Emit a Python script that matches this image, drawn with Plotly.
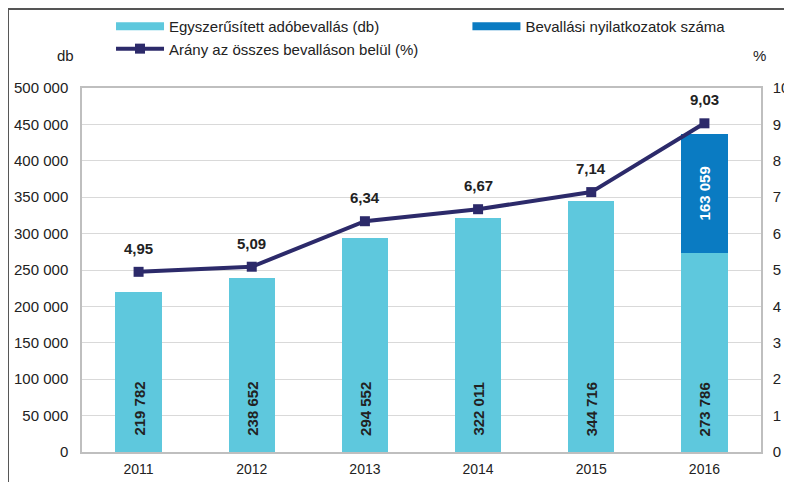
import plotly.graph_objects as go

years = [2011, 2012, 2013, 2014, 2015, 2016]
simplified = [219782, 238652, 294552, 322011, 344716, 273786]
declarations = [0, 0, 0, 0, 0, 163059]
ratio = [4.95, 5.09, 6.34, 6.67, 7.14, 9.03]
left_ticks = [0, 50000, 100000, 150000, 200000, 250000, 300000, 350000, 400000, 450000, 500000]
right_ticks = [0, 1, 2, 3, 4, 5, 6, 7, 8, 9, 10]

FONT = "Liberation Sans, Arial, sans-serif"
LIGHT = "#5ec8dd"
DARK = "#0a7bc2"
NAVY = "#2c2a6a"
TXT = "#222222"
NAME_A = "Egyszerűsített adóbevallás (db)"
NAME_B = "Bevallási nyilatkozatok száma"
NAME_C = "Arány az összes bevalláson belül (%)"

def fmt(v):
    return f"{v:,}".replace(",", " ")

fig = go.Figure()
fig.add_trace(go.Bar(
    x=years, y=simplified, name=NAME_A, showlegend=False,
    marker=dict(color=LIGHT, line=dict(width=0)), width=0.41,
))
fig.add_trace(go.Bar(
    x=years, y=declarations, name=NAME_B, showlegend=False,
    marker=dict(color=DARK, line=dict(width=0)), width=0.41,
    text=[fmt(v) if v else "" for v in declarations],
    textposition="inside", insidetextanchor="middle", textangle=-90,
    textfont=dict(family=FONT, size=15, color="white", weight="bold"),
))
fig.add_trace(go.Scatter(
    x=years, y=ratio, name=NAME_C,
    yaxis="y2", mode="lines+markers", legend="legend", legendrank=2,
    line=dict(color=NAVY, width=4),
    marker=dict(symbol="square", size=10, color=NAVY),
))
# legend swatches for the bar series (wide rectangles as in the original)
fig.add_trace(go.Scatter(x=[None], y=[None], name=NAME_A, mode="lines",
                         line=dict(color=LIGHT, width=8), legend="legend",
                         legendrank=1))
fig.add_trace(go.Scatter(x=[None], y=[None], name=NAME_B, mode="lines",
                         line=dict(color=DARK, width=8), legend="legend2"))

annotations = []
for yr, v in zip(years, simplified):
    annotations.append(dict(
        x=yr, y=0, xref="x", yref="y", text=f"<b>{fmt(v)}</b>", showarrow=False,
        textangle=-90, yanchor="bottom", yshift=14,
        font=dict(family=FONT, size=15, color=TXT),
    ))
for yr, v in zip(years, ratio):
    annotations.append(dict(
        x=yr, y=v, xref="x", yref="y2", text=f"<b>{v:.2f}</b>".replace(".", ","),
        showarrow=False, yanchor="bottom", yshift=13,
        font=dict(family=FONT, size=15, color=TXT),
    ))
annotations.append(dict(x=(76 - 82) / 679, y=(452 - 55) / 364, xref="paper", yref="paper",
                        text="db", showarrow=False, xanchor="right", yanchor="middle",
                        font=dict(family=FONT, size=15, color=TXT)))
annotations.append(dict(x=(751 - 82) / 679, y=(452 - 55) / 364, xref="paper", yref="paper",
                        text="%", showarrow=False, xanchor="left", yanchor="middle",
                        font=dict(family=FONT, size=15, color=TXT)))

shapes = [
    dict(type="line", xref="paper", yref="paper", x0=-0.109, x1=-0.109, y0=-0.2, y1=1.217,
         line=dict(color="#555555", width=2)),
    dict(type="line", xref="paper", yref="paper", x0=-0.109, x1=1.2, y0=1.217, y1=1.217,
         line=dict(color="#555555", width=2)),
]

legfont = dict(family=FONT, size=15, color=TXT)
fig.update_layout(
    width=784, height=474,
    margin=dict(l=74, r=31, t=80, b=30, autoexpand=False),
    paper_bgcolor="white", plot_bgcolor="white",
    barmode="stack",
    font=dict(family=FONT, size=15, color=TXT),
    showlegend=True,
    legend=dict(orientation="v", xref="container", yref="container",
                x=0.1314, y=0.996, xanchor="left", yanchor="top",
                itemwidth=48, traceorder="normal", font=legfont,
                bgcolor="rgba(0,0,0,0)", tracegroupgap=0),
    legend2=dict(orientation="v", xref="container", yref="container",
                 x=0.586, y=0.996, xanchor="left", yanchor="top",
                 itemwidth=48, font=legfont, bgcolor="rgba(0,0,0,0)"),
    xaxis=dict(type="linear", range=[2010.5, 2016.5], tickmode="array",
               tickvals=years, ticktext=[str(y) for y in years],
               ticklabelstandoff=3,
               showline=True, linecolor="#bfbfbf", linewidth=1.5,
               mirror=True, ticks="", showgrid=False, zeroline=False,
               tickfont=dict(size=14), automargin=False),
    yaxis=dict(range=[0, 500000], tickmode="array", tickvals=left_ticks,
               ticktext=[fmt(t) for t in left_ticks], ticklabelstandoff=9,
               showgrid=True, gridcolor="#d9d9d9", gridwidth=1.2,
               showline=True, linecolor="#bfbfbf", linewidth=1.5, ticks="",
               zeroline=False, tickfont=dict(size=15), automargin=False),
    yaxis2=dict(range=[0, 10], tickmode="array", tickvals=right_ticks,
                ticktext=[str(t) for t in right_ticks], overlaying="y", side="right",
                ticklabelstandoff=7,
                showgrid=False, showline=True, linecolor="#bfbfbf", linewidth=1.5,
                ticks="", zeroline=False, tickfont=dict(size=15), automargin=False),
    annotations=annotations,
    shapes=shapes,
)

fig.write_html("out.html")
